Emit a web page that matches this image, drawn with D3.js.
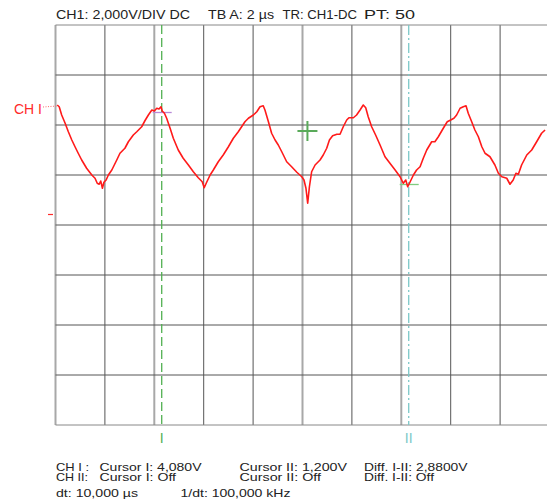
<!DOCTYPE html>
<html>
<head>
	<meta charset="utf-8"/>
	<script src="https://cdn.jsdelivr.net/npm/d3@7/dist/d3.min.js"></script>
	<style type="text/css">
		body { margin: 0; background: #fff; }
		svg { display: block; }
		text { font-family: "Liberation Sans", Arial, sans-serif; }
	</style>
</head>
<body>
	<svg id="scope" width="547" height="503"></svg>
	<script type="text/javascript">

		// CH1 trace, time in µs from left edge of the screen, volts
		var timeUs = [0.07, 0.15, 0.25, 0.39, 0.52, 0.66, 0.79, 0.92, 1.06, 1.26, 1.47, 1.60, 1.69, 1.77, 1.83, 1.90, 1.96, 2.05, 2.14, 2.28,
			2.48, 2.61, 2.81, 2.95, 3.15, 3.29, 3.49, 3.62, 3.76, 3.90, 4.00, 4.10, 4.19, 4.27, 4.32, 4.41, 4.50, 4.64, 4.77, 4.97,
			5.17, 5.38, 5.58, 5.78, 5.94, 6.02, 6.12, 6.26, 6.39, 6.59, 6.79, 7.00, 7.20, 7.40, 7.67, 7.81, 8.01, 8.15, 8.28, 8.41,
			8.48, 8.62, 8.75, 8.89, 9.02, 9.16, 9.36, 9.56, 9.77, 9.97, 10.06, 10.14, 10.21, 10.28, 10.37, 10.51, 10.71, 10.84, 10.98, 11.09,
			11.22, 11.39, 11.52, 11.65, 11.79, 11.88, 12.06, 12.19, 12.33, 12.46, 12.56, 12.66, 12.80, 12.96, 13.14, 13.34, 13.54, 13.75, 13.95, 14.08,
			14.18, 14.26, 14.35, 14.49, 14.62, 14.76, 14.89, 15.03, 15.23, 15.36, 15.50, 15.70, 15.86, 16.00, 16.13, 16.24, 16.38, 16.51, 16.62, 16.71,
			16.85, 16.98, 17.12, 17.26, 17.39, 17.59, 17.79, 17.93, 18.07, 18.27, 18.40, 18.53, 18.64, 18.74, 18.87, 19.08, 19.28, 19.48, 19.68, 19.82];
		var ch1Volts = [4.38, 4.31, 3.98, 3.65, 3.31, 2.98, 2.71, 2.45, 2.18, 1.85, 1.58, 1.45, 1.25, 1.21, 1.34, 1.05, 1.29, 1.38, 1.58, 1.78,
			2.18, 2.45, 2.65, 2.91, 3.18, 3.31, 3.51, 3.75, 3.98, 4.18, 4.14, 4.25, 4.22, 4.31, 4.14, 4.05, 3.85, 3.45, 3.05, 2.58,
			2.25, 1.98, 1.71, 1.47, 1.31, 1.07, 1.29, 1.58, 1.78, 2.11, 2.38, 2.71, 3.05, 3.31, 3.71, 3.85, 3.98, 4.11, 4.31, 4.35,
			4.18, 3.71, 3.25, 2.98, 2.78, 2.51, 2.11, 1.91, 1.69, 1.51, 1.38, 1.05, 0.45, 1.11, 1.71, 1.98, 2.18, 2.38, 2.65, 2.98,
			3.15, 3.21, 3.21, 3.51, 3.78, 3.87, 3.87, 3.98, 4.18, 4.38, 4.27, 3.91, 3.51, 3.18, 2.78, 2.31, 2.05, 1.78, 1.51, 1.25,
			1.38, 1.11, 1.29, 1.58, 1.78, 1.91, 2.25, 2.58, 2.91, 2.91, 3.11, 3.45, 3.71, 3.78, 3.85, 3.98, 4.25, 4.31, 4.35, 4.05,
			3.71, 3.38, 3.11, 2.71, 2.45, 2.31, 1.98, 1.65, 1.51, 1.45, 1.21, 1.38, 1.65, 1.61, 1.98, 2.38, 2.58, 2.91, 3.25, 3.38];

		// cursors
		var cursorTimes = [4.3, 14.3];      // µs, cursor I and II
		var cursorLevels = [4.08, 1.20];    // V
		var cursorNames = ["I", "II"];

		// screen texts
		var headerTexts = ["CH1: 2,000V/DIV DC", "TB A: 2 µs", "TR: CH1-DC", "PT: 50"];
		var readoutRows = [
			["CH I :", "Cursor I: 4,080V", "Cursor II: 1,200V", "Diff. I-II: 2,8800V"],
			["CH II:", "Cursor I: Off", "Cursor II: Off", "Diff. I-II: Off"],
			["dt: 10,000 µs", "1/dt: 100,000 kHz"]
		];

		var svg = d3.select("#scope");

		var gLeft = 55.5, gRight = 549.5, gTop = 25, gBottom = 425;
		var usPerDiv = 2, vPerDiv = 2, groundDiv = 4.21;

		var x = d3.scaleLinear().domain([0, 10 * usPerDiv]).range([gLeft, gRight]);
		var y = d3.scaleLinear()
			.domain([-groundDiv * vPerDiv, (8 - groundDiv) * vPerDiv])
			.range([gBottom, gTop]);

		// grid
		var grid = svg.append("g");
		var xDivs = d3.range(0, 11);
		var soft = function(d) { return d == 0 || d == 2 || d == 5 || d == 7; };
		grid.selectAll("line.v").data(xDivs).enter()
			.append("line")
			.attr("x1", function(d) { return x(d * usPerDiv); })
			.attr("x2", function(d) { return x(d * usPerDiv); })
			.attr("y1", gTop).attr("y2", gBottom)
			.style("stroke", function(d) { return soft(d) ? "#a8a8a8" : "#555"; })
			.style("stroke-width", function(d) { return soft(d) ? 2 : 1; });

		var yDivs = d3.range(0, 9);
		grid.selectAll("line.h").data(yDivs).enter()
			.append("line")
			.attr("x1", gLeft).attr("x2", gRight)
			.attr("y1", function(d) { return y((d - groundDiv) * vPerDiv); })
			.attr("y2", function(d) { return y((d - groundDiv) * vPerDiv); })
			.style("stroke", function(d) { return (d == 0 || d == 8) ? "#888" : "#555"; })
			.style("stroke-width", 1);

		// cursor lines
		var cursorColors = ["#52b052", "#7cc8c8"];
		svg.selectAll("line.cursor").data(cursorTimes).enter()
			.append("line")
			.attr("x1", function(d) { return x(d); })
			.attr("x2", function(d) { return x(d); })
			.attr("y1", gTop).attr("y2", gBottom)
			.style("stroke", function(d, i) { return cursorColors[i]; })
			.style("stroke-width", 1.3)
			.style("stroke-dasharray", function(d, i) { return i == 0 ? "9,4" : "10,3,2,3"; });

		// cursor level marks
		var levelColors = ["#b88ad8", "#80cc80"];
		svg.selectAll("line.level").data(cursorLevels).enter()
			.append("line")
			.attr("x1", function(d, i) { return x(cursorTimes[i]) - 9; })
			.attr("x2", function(d, i) { return x(cursorTimes[i]) + 10; })
			.attr("y1", function(d) { return y(d); })
			.attr("y2", function(d) { return y(d); })
			.style("stroke", function(d, i) { return levelColors[i]; })
			.style("stroke-width", 1.3);

		// cursor names below the grid
		svg.selectAll("text.cname").data(cursorNames).enter()
			.append("text")
			.attr("x", function(d, i) { return x(cursorTimes[i]); })
			.attr("y", 443)
			.attr("text-anchor", "middle")
			.style("font-size", "14px")
			.style("fill", function(d, i) { return cursorColors[i]; })
			.text(function(d) { return d; });

		// trace
		var trace = d3.zip(timeUs, ch1Volts);
		svg.append("path")
			.datum(trace)
			.attr("d", d3.line()
				.x(function(d) { return x(d[0]); })
				.y(function(d) { return y(d[1]); }))
			.style("fill", "none")
			.style("stroke", "#ff1a1a")
			.style("stroke-width", 1.6)
			.style("stroke-linejoin", "round");

		// channel label and ground mark
		svg.append("text")
			.attr("x", 14).attr("y", 114)
			.style("font-size", "14px")
			.style("fill", "#ff2a2a")
			.text("CH I");
		svg.append("line")
			.attr("x1", 43).attr("x2", x(timeUs[0]))
			.attr("y1", 107).attr("y2", 106)
			.style("stroke", "#ff6a6a")
			.style("stroke-dasharray", "1,1.5");
		svg.append("line")
			.attr("x1", 48).attr("x2", 53)
			.attr("y1", y(0)).attr("y2", y(0))
			.style("stroke", "#ff2a2a")
			.style("stroke-width", 1.2);

		// trigger cross
		var cx = x(10.2), cy = y(3.34);
		svg.append("path")
			.attr("d", "M" + (cx - 10) + "," + cy + "H" + (cx + 10) + "M" + cx + "," + (cy - 10) + "V" + (cy + 10))
			.style("stroke", "#5aaa5a")
			.style("stroke-width", 2);

		// header
		var headerX = [56, 208, 282.5, 364];
		var headerW = [134, 66, 74.5, 51];
		svg.selectAll("text.head").data(headerTexts).enter()
			.append("text")
			.attr("x", function(d, i) { return headerX[i]; })
			.attr("y", 19)
			.attr("textLength", function(d, i) { return headerW[i]; })
			.attr("lengthAdjust", "spacingAndGlyphs")
			.style("font-size", "13px")
			.style("fill", "#222")
			.text(function(d) { return d; });

		// readout lines
		var colX = [[56, 99.5, 239.5, 364], [56, 99.5, 239.5, 364], [56, 180.5]];
		var colW = [[33, 102, 107.5, 103.5], [32, 76.5, 81.5, 70], [82, 110]];
		var rowY = [470.5, 481, 497];
		readoutRows.forEach(function(row, r) {
			svg.selectAll("text.row" + r).data(row).enter()
				.append("text")
				.attr("x", function(d, i) { return colX[r][i]; })
				.attr("y", rowY[r])
				.attr("textLength", function(d, i) { return colW[r][i]; })
				.attr("lengthAdjust", "spacingAndGlyphs")
				.style("font-size", "11.5px")
				.style("fill", "#222")
				.text(function(d) { return d; });
		});

	</script>
</body>
</html>
